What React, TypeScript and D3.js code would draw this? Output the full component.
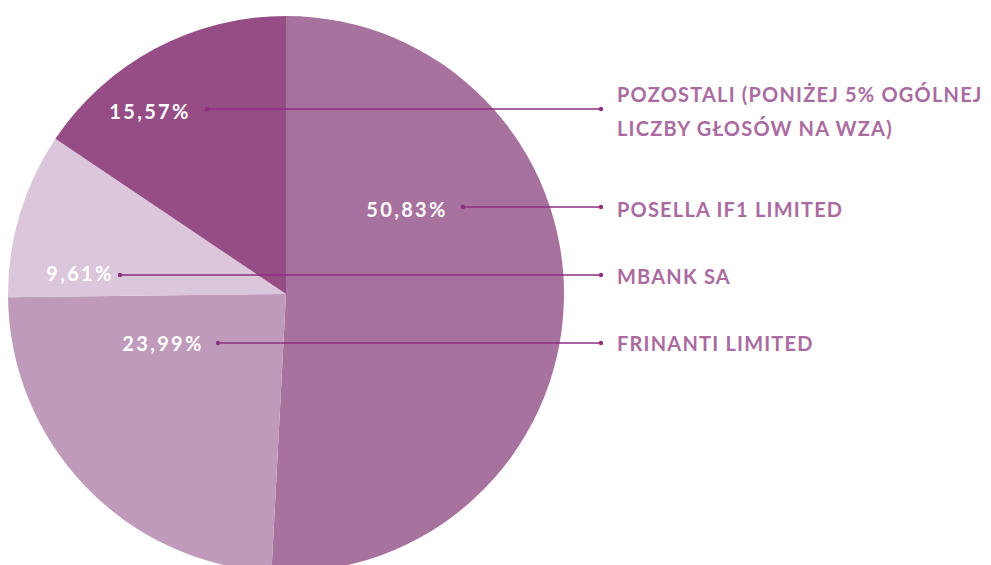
import React from "react";
import * as d3 from "d3";

const names = [
  "POSELLA IF1 LIMITED",
  "FRINANTI LIMITED",
  "MBANK SA",
  "POZOSTALI (PONIŻEJ 5% OGÓLNEJ|LICZBY GŁOSÓW NA WZA)",
];
const values = [50.83, 23.99, 9.61, 15.57];
const colors = ["#A8729F", "#C09ABA", "#DCC6DB", "#964C85"];

// layout: label text centre (x,y) inside pie and legend row y
const labelPos = [
  { tx: 407, ty: 209, lx0: 463, ly: 207, legendY: 209 },
  { tx: 163, ty: 343, lx0: 218, ly: 343, legendY: 343 },
  { tx: 80, ty: 273, lx0: 120, ly: 275, legendY: 276 },
  { tx: 150, ty: 111, lx0: 207, ly: 109, legendY: 111 },
];

export default function App() {
  const W = 991, H = 565;
  const cx = 286, cy = 294, R = 278;
  const pie = d3.pie<number>().sort(null).value((d) => d)(values);
  const arc = d3.arc<d3.PieArcDatum<number>>().innerRadius(0).outerRadius(R);
  const fmt = (v: number) => v.toFixed(2).replace(".", ",") + "%";
  const lineColor = "#8E2F80";
  const legendColor = "#A96BA0";
  const endX = 601, textX = 617;
  return (
    <svg width={W} height={H} style={{ position: "absolute", left: 0, top: 0 }}>
      <rect width={W} height={H} fill="#fff" />
      <g transform={`translate(${cx},${cy})`}>
        {pie.map((p, i) => (
          <path key={i} d={arc(p) || ""} fill={colors[i]} />
        ))}
      </g>
      {values.map((v, i) => {
        const L = labelPos[i];
        return (
          <g key={i}>
            <text
              x={L.tx}
              y={L.ty}
              textAnchor="middle"
              dominantBaseline="central"
              fill="#fff"
              fontFamily="Lato, 'Open Sans', sans-serif"
              fontWeight={700}
              fontSize={20}
              letterSpacing={2.3}
            >
              {fmt(v)}
            </text>
            <line x1={L.lx0} y1={L.ly} x2={endX} y2={L.ly} stroke={lineColor} strokeWidth={1.3} />
            <circle cx={L.lx0} cy={L.ly} r={2.2} fill={lineColor} />
            <circle cx={endX} cy={L.ly} r={2.2} fill={lineColor} />
          </g>
        );
      })}
      {names.map((n, i) => {
        const parts = n.split("|");
        const L = labelPos[i];
        const lh = 34;
        const y0 = L.legendY - ((parts.length - 1) * lh) / 2;
        return (
          <text
            key={i}
            fill={legendColor}
            fontFamily="Lato, 'Open Sans', sans-serif"
            fontWeight={700}
            fontSize={20}
            letterSpacing={1.2}
          >
            {parts.map((t, j) => (
              <tspan key={j} x={textX} y={y0 + j * lh} dominantBaseline="central">
                {t}
              </tspan>
            ))}
          </text>
        );
      })}
    </svg>
  );
}
